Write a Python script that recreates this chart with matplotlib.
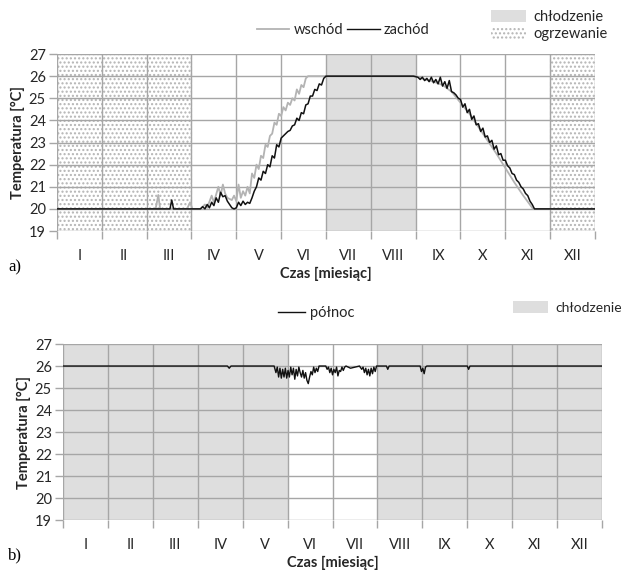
import numpy as np
import matplotlib.pyplot as plt
from matplotlib.patches import Patch
from matplotlib.lines import Line2D

plt.rcParams["font.family"] = ["Lato", "DejaVu Sans"]
plt.rcParams["hatch.linewidth"] = 1.0

months = ["I", "II", "III", "IV", "V", "VI", "VII", "VIII", "IX", "X", "XI", "XII"]

# panel a: east (wschód) and west (zachód) rooms, x in months
east_t = [0.0, 2.20, 2.26, 2.30, 2.90, 2.97, 3.02, 3.20,
          3.30, 3.35, 3.45, 3.50, 3.60, 3.65, 3.70, 3.75, 3.80, 3.90, 3.95, 4.00,
          4.05, 4.10, 4.15, 4.20, 4.25, 4.30, 4.35, 4.40, 4.45, 4.50, 4.55, 4.60,
          4.65, 4.70, 4.75, 4.80, 4.85, 4.90, 4.95, 5.00, 5.05, 5.10, 5.15, 5.20,
          5.25, 5.30, 5.35, 5.40, 5.45, 5.50, 5.55, 5.60, 8.00,
          8.20, 8.40, 8.60, 8.80, 9.00, 9.20, 9.40, 9.60, 9.80, 10.00, 10.20,
          10.40, 10.60, 10.62, 12.0]
east_v = [20.0, 20.0, 20.63, 20.0, 20.0, 20.3, 20.0, 20.0,
          20.2, 20.05, 20.6, 20.3, 21.0, 20.6, 21.1, 20.7, 20.5, 20.4, 20.6, 20.35,
          21.1, 20.5, 20.8, 20.6, 21.0, 20.7, 21.6, 21.4, 22.0, 21.8, 22.4, 22.3,
          22.9, 22.8, 23.3, 23.4, 23.9, 23.8, 24.3, 24.2, 24.6, 24.45, 24.8, 24.7,
          25.0, 24.9, 25.4, 25.2, 25.6, 25.5, 25.9, 26.0, 26.0,
          25.85, 25.75, 25.6, 25.3, 24.8, 24.3, 23.7, 23.1, 22.5, 21.85, 21.2,
          20.6, 20.05, 20.0, 20.0]

west_t = [0.0, 2.52, 2.56, 2.60, 3.20, 3.25, 3.30, 3.35, 3.40, 3.45, 3.50,
          3.55, 3.60, 3.65, 3.70, 3.75, 3.80, 3.85, 3.90, 3.95, 4.00, 4.05, 4.10,
          4.15, 4.20, 4.25, 4.30, 4.35, 4.40, 4.45, 4.50, 4.55, 4.60, 4.65, 4.70,
          4.75, 4.80, 4.85, 4.90, 4.95, 5.00, 5.05, 5.10, 5.15, 5.20, 5.25, 5.30,
          5.35, 5.40, 5.45, 5.50, 5.55, 5.60, 5.65, 5.70, 5.75, 5.80, 5.85, 5.90,
          5.95, 6.00, 7.95, 8.05, 8.10, 8.15, 8.20, 8.25, 8.30, 8.35, 8.40, 8.45,
          8.50, 8.55, 8.60, 8.65, 8.70, 8.75, 8.80, 8.85, 8.90, 8.95, 9.00, 9.05,
          9.10, 9.15, 9.20, 9.25, 9.30, 9.35, 9.40, 9.45, 9.50, 9.55, 9.60, 9.65,
          9.70, 9.75, 9.80, 9.85, 9.90, 9.95, 10.00, 10.05, 10.10, 10.15, 10.20,
          10.25, 10.30, 10.35, 10.40, 10.45, 10.50, 10.55, 10.60, 10.65, 12.0]
west_v = [20.0, 20.0, 20.4, 20.0, 20.0, 20.1, 20.0, 20.2, 20.05, 20.3, 20.15,
          20.5, 20.3, 20.75, 20.55, 20.6, 20.35, 20.2, 20.05, 20.0, 20.05, 20.3, 20.15,
          20.35, 20.2, 20.3, 20.25, 20.5, 20.8, 21.0, 21.4, 21.3, 21.7, 21.6, 22.0,
          21.9, 22.4, 22.3, 22.9, 22.8, 23.2, 23.3, 23.4, 23.5, 23.55, 23.75, 23.8,
          24.1, 24.0, 24.35, 24.3, 24.7, 24.75, 25.1, 25.1, 25.4, 25.35, 25.65, 25.6,
          25.9, 26.0, 26.0, 25.95, 25.85, 25.95, 25.8, 25.9, 25.75, 25.95, 25.7, 25.85,
          25.65, 25.95, 25.55, 25.75, 25.45, 25.8, 25.3, 25.25, 25.15, 25.0, 24.95, 24.6,
          24.75, 24.35, 24.5, 24.05, 24.2, 23.8, 23.85, 23.5, 23.65, 23.25, 23.3, 23.0,
          23.1, 22.7, 22.85, 22.45, 22.5, 22.2, 22.2, 21.95, 21.85, 21.6, 21.55,
          21.3, 21.2, 21.0, 20.9, 20.7, 20.6, 20.35, 20.2, 20.0, 20.0]

heating_a = [(0, 3), (11, 12)]
cooling_a = [(6, 8)]

# panel b: north (północ) room
north_t = [0.0, 3.66, 3.70, 3.74, 4.70, 4.74, 4.77, 4.80, 4.83, 4.86, 4.89,
           4.92, 4.95, 4.98, 5.01, 5.04, 5.07, 5.10, 5.13, 5.16, 5.19, 5.22, 5.25,
           5.28, 5.31, 5.34, 5.37, 5.40, 5.43, 5.46, 5.49, 5.52, 5.55, 5.58, 5.61,
           5.64, 5.67, 5.70, 5.85, 5.88, 5.91, 5.94, 5.97, 6.00, 6.03, 6.06, 6.09,
           6.12, 6.15, 6.18, 6.21, 6.24, 6.27, 6.30, 6.40, 6.50, 6.60, 6.65, 6.68,
           6.71, 6.74, 6.77, 6.80, 6.83, 6.86, 6.89, 6.92, 6.95, 6.98, 7.20, 7.23,
           7.26, 7.95, 7.98, 8.01, 8.04, 8.07, 8.10, 9.00, 9.03, 9.06, 12.0]
north_v = [26.0, 26.0, 25.9, 26.0, 26.0, 25.7, 25.95, 25.5, 25.9, 25.45, 25.85,
           25.5, 25.9, 25.45, 25.8, 25.5, 25.95, 25.6, 25.9, 25.4, 25.85, 25.55, 25.95,
           25.7, 25.5, 25.8, 25.45, 25.7, 25.35, 25.2, 25.5, 25.75, 25.6, 25.95, 25.7,
           25.9, 25.75, 26.0, 26.0, 25.85, 25.95, 25.7, 25.9, 25.6, 25.85, 25.7, 25.95,
           25.55, 25.8, 25.75, 25.95, 25.8, 25.95, 26.0, 25.9, 25.95, 26.0, 25.85, 25.95,
           25.7, 25.9, 25.6, 25.85, 25.55, 25.9, 25.65, 25.95, 25.75, 26.0, 26.0, 25.85,
           26.0, 26.0, 25.75, 25.9, 25.65, 25.95, 26.0, 26.0, 25.85, 26.0, 26.0]

cooling_b = [(0, 5), (7, 12)]

GRID = "#a6a6a6"
SHADE = "#dedede"
DOTS = "#b4b4b4"
TXT = "#262626"


def style_axes(ax):
    ax.set_xlim(0, 12)
    ax.set_ylim(19, 27)
    ax.set_yticks(range(19, 28))
    ax.set_xticks(range(13))
    ax.set_xticks(np.arange(0.5, 12, 1), minor=True)
    ax.set_xticklabels([])
    ax.set_xticklabels(months, minor=True)
    ax.tick_params(axis="x", which="major", length=6, color=GRID, width=1)
    ax.tick_params(axis="x", which="minor", length=0, pad=13, labelsize=10.5, labelcolor=TXT)
    ax.tick_params(axis="y", length=6, color=GRID, width=1, labelsize=10.5, labelcolor=TXT, pad=2)
    ax.grid(True, which="major", color=GRID, linewidth=1)
    for s in ax.spines.values():
        s.set_visible(False)
    ax.set_axisbelow(True)
    ax.set_xlabel("Czas [miesiąc]", fontweight="bold", fontsize=10.5, color=TXT, labelpad=3)
    ax.set_ylabel("Temperatura [°C]", fontweight="bold", fontsize=10.5, color=TXT, labelpad=3)


def color_texts(leg):
    for t in leg.get_texts():
        t.set_color(TXT)


fig = plt.figure(figsize=(6.22, 5.71), dpi=100)

# Panel a
ax1 = fig.add_axes([0.0916, 0.5954, 0.865, 0.310])
for a, b in cooling_a:
    ax1.axvspan(a, b, facecolor=SHADE, edgecolor="none", zorder=0.5)
for a, b in heating_a:
    ax1.axvspan(a, b, facecolor="white", edgecolor=DOTS, hatch="....",
                linestyle="--", linewidth=0.8, zorder=0.5)
ax1.plot(east_t, east_v, color="#b3b3b3", linewidth=1.3, zorder=3)
ax1.plot(west_t, west_v, color="#111111", linewidth=1.1, zorder=4)
style_axes(ax1)
fig.text(0.013, 0.531, "a)", fontsize=12, family="Liberation Serif", va="center")

leg1 = fig.legend(handles=[Line2D([], [], color="#b3b3b3", lw=1.3),
                           Line2D([], [], color="#111111", lw=1.0)],
                  labels=["wschód", "zachód"], ncol=2, frameon=False,
                  loc="center", bbox_to_anchor=(0.552, 0.947), fontsize=10.5,
                  handlelength=2.2, handletextpad=0.3, columnspacing=0.3)
color_texts(leg1)
leg2 = fig.legend(handles=[Patch(facecolor=SHADE, edgecolor="none"),
                           Patch(facecolor="white", edgecolor=DOTS, hatch="....", linewidth=0)],
                  labels=["chłodzenie", "ogrzewanie"], frameon=False,
                  loc="center left", bbox_to_anchor=(0.789, 0.955), fontsize=10.5,
                  handlelength=2.4, handleheight=0.9, handletextpad=0.5, labelspacing=0.2,
                  borderpad=0, borderaxespad=0)
color_texts(leg2)

# Panel b
ax2 = fig.add_axes([0.1013, 0.0893, 0.8666, 0.3082])
for a, b in cooling_b:
    ax2.axvspan(a, b, facecolor=SHADE, edgecolor="none", zorder=0.5)
ax2.plot(north_t, north_v, color="#111111", linewidth=1.0, zorder=4)
style_axes(ax2)
fig.text(0.013, 0.028, "b)", fontsize=12, family="Liberation Serif", va="center")

leg3 = fig.legend(handles=[Line2D([], [], color="#111111", lw=1.0)],
                  labels=["północ"], frameon=False, loc="center",
                  bbox_to_anchor=(0.508, 0.452), fontsize=10.5,
                  handlelength=1.9, handletextpad=0.3)
color_texts(leg3)
leg4 = fig.legend(handles=[Patch(facecolor=SHADE, edgecolor="none")],
                  labels=["chłodzenie"], frameon=False, loc="center left",
                  bbox_to_anchor=(0.825, 0.461), fontsize=10,
                  handlelength=2.5, handleheight=0.9, handletextpad=0.55,
                  borderpad=0, borderaxespad=0)
color_texts(leg4)

fig.savefig("out.png", dpi=100)
plt.close(fig)
